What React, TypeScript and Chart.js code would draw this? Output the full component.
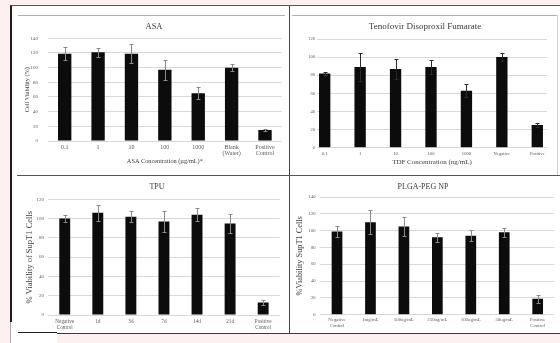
import React, { useEffect, useRef } from "react";
import { Chart, registerables } from "chart.js";

Chart.register(...registerables);

const SERIF = '"Liberation Serif", "Times New Roman", serif';

// ---- ASA ----
const asaCategories: (string | string[])[] = ["0.1", "1", "10", "100", "1000", ["Blank", "(Water)"], ["Positive", "Control"]];
const asaViability = [119, 121, 119, 97, 65, 100, 15];
const asaError = [9, 6, 13, 14, 8, 5, 1.5];
const asaTicks = [0, 20, 40, 60, 80, 100, 120, 140];

// ---- Tenofovir Disoproxil Fumarate ----
const tdfCategories: (string | string[])[] = ["0.1", "1", "10", "100", "1000", "Negative", "Positive"];
const tdfViability = [82, 89, 87, 89, 63, 100, 25];
const tdfError = [2, 15, 11, 8, 7, 4.5, 2.5];
const tdfTicks = [0, 20, 40, 60, 80, 100, 120];

// ---- TPU ----
const tpuCategories: (string | string[])[] = [["Negative", "Control"], "1d", "3d", "7d", "14d", "21d", ["Positive", "Control"]];
const tpuViability = [100, 106, 102, 97, 104, 95, 13];
const tpuError = [4, 8, 6, 11, 6.5, 10, 2.5];
const tpuTicks = [0, 20, 40, 60, 80, 100, 120];

// ---- PLGA-PEG NP ----
const plgaCategories: (string | string[])[] = [["Negative", "Control"], "1mg/mL", "500ug/mL", "250ug/mL", "100ug/mL", "50ug/mL", ["Positive", "Control"]];
const plgaViability = [99, 110, 105, 92, 94, 98, 19];
const plgaError = [6, 14, 11, 5, 6.5, 5, 4.5];
const plgaTicks = [0, 20, 40, 60, 80, 100, 120, 140];

// Draws +/- error whiskers on each bar using the value scale.
const errorBarsPlugin = {
  id: "errorBars",
  afterDatasetsDraw(chart: any, _args: any, opts: any) {
    const errs: number[] = opts.errors || [];
    const values: number[] = opts.values || [];
    const meta = chart.getDatasetMeta(0);
    const y = chart.scales.y;
    const ctx = chart.ctx;
    const cap = opts.cap ?? 2;
    ctx.save();
    ctx.strokeStyle = opts.color || "#888";
    ctx.lineWidth = 1;
    meta.data.forEach((bar: any, i: number) => {
      const v = values[i];
      const e = errs[i] ?? 0;
      const x = Math.round(bar.x) + 0.5;
      const top = Math.round(y.getPixelForValue(v + e)) + 0.5;
      const bot = Math.round(y.getPixelForValue(v - e)) + 0.5;
      ctx.beginPath();
      ctx.moveTo(x, top);
      ctx.lineTo(x, bot);
      ctx.moveTo(x - cap, top);
      ctx.lineTo(x + cap, top);
      ctx.moveTo(x - cap, bot);
      ctx.lineTo(x + cap, bot);
      ctx.stroke();
    });
    ctx.restore();
  },
};

// Panel heading drawn at a fixed spot above the plot.
const panelTitlePlugin = {
  id: "panelTitle",
  afterDraw(chart: any, _args: any, opts: any) {
    if (!opts.text) return;
    const ctx = chart.ctx;
    ctx.save();
    ctx.font = `${opts.size}px ${SERIF}`;
    ctx.fillStyle = opts.color || "#333";
    ctx.textAlign = "center";
    ctx.textBaseline = "middle";
    ctx.fillText(opts.text, opts.x, opts.y);
    ctx.restore();
  },
};

type PanelProps = {
  left: number;
  top: number;
  width: number;
  height: number;
  categories: (string | string[])[];
  values: number[];
  errors: number[];
  ticks: number[];
  title: string;
  titleX: number;
  titleSize: number;
  padTop: number;
  padRight: number;
  yAxisWidth: number;
  xAxisHeight: number;
  yTickPad: number;
  yTickSize: number;
  xTickPad: number;
  xTickSize: number;
  yTitle?: string;
  yTitleSize?: number;
  yTitlePad?: number;
  xTitle?: string;
  xTitleSize?: number;
  xTitlePad?: number;
  barPct: number;
  errColor: string;
  // numeric x range for panels whose bars do not sit on even category slots
  xRange?: [number, number];
};

function Panel(p: PanelProps) {
  const ref = useRef<HTMLCanvasElement | null>(null);

  useEffect(() => {
    if (!ref.current) return;
    const tickMin = p.ticks[0];
    const tickMax = p.ticks[p.ticks.length - 1];
    const linearX = !!p.xRange;

    const xTitle = p.xTitle
      ? {
          display: true,
          text: p.xTitle,
          font: { family: SERIF, size: p.xTitleSize },
          color: "#404040",
          padding: { top: 0, bottom: p.xTitlePad },
        }
      : { display: false };

    const xTickStyle = {
      font: { family: SERIF, size: p.xTickSize, lineHeight: 1.05 },
      color: "#595959",
      padding: p.xTickPad,
      maxRotation: 0,
      minRotation: 0,
      autoSkip: false,
    };

    const xScale: any = linearX
      ? {
          type: "linear",
          offset: false,
          min: p.xRange![0],
          max: p.xRange![1],
          grid: { display: false, drawTicks: false },
          border: { display: false },
          afterBuildTicks: (s: any) => {
            s.ticks = p.categories.map((_, i) => ({ value: i }));
          },
          ticks: {
            ...xTickStyle,
            includeBounds: false,
            callback: (v: number) => p.categories[Math.round(v)],
          },
          title: xTitle,
          afterFit: (s: any) => {
            s.height = p.xAxisHeight;
          },
        }
      : {
          type: "category",
          offset: true,
          grid: { display: false, drawTicks: false },
          border: { display: false },
          ticks: xTickStyle,
          title: xTitle,
          afterFit: (s: any) => {
            s.height = p.xAxisHeight;
          },
        };

    const chart = new Chart(ref.current, {
      type: "bar",
      data: {
        labels: linearX ? undefined : (p.categories as any),
        datasets: [
          {
            data: linearX ? p.values.map((v, i) => ({ x: i, y: v })) : p.values,
            backgroundColor: "#0c0c0c",
            borderWidth: 0,
            barPercentage: p.barPct,
            categoryPercentage: 1,
          } as any,
        ],
      },
      options: {
        animation: false,
        responsive: false,
        devicePixelRatio: 1,
        layout: { padding: { top: p.padTop, right: p.padRight, left: 0, bottom: 0 } },
        plugins: {
          legend: { display: false },
          tooltip: { enabled: false },
          title: { display: false },
          errorBars: { values: p.values, errors: p.errors, color: p.errColor, cap: 2 },
          panelTitle: { text: p.title, x: p.titleX, y: 11, size: p.titleSize, color: "#3a3a3a" },
        } as any,
        scales: {
          x: xScale,
          y: {
            min: tickMin,
            max: tickMax,
            afterBuildTicks: (s: any) => {
              s.ticks = p.ticks.map((v) => ({ value: v }));
            },
            ticks: {
              font: { family: SERIF, size: p.yTickSize },
              color: "#595959",
              padding: p.yTickPad,
            },
            grid: { color: "#d9d9d9", drawTicks: false, lineWidth: 1 },
            border: { display: false },
            title: p.yTitle
              ? {
                  display: true,
                  text: p.yTitle,
                  font: { family: SERIF, size: p.yTitleSize },
                  color: "#404040",
                  padding: { top: p.yTitlePad, bottom: 0 },
                }
              : { display: false },
            afterFit: (s: any) => {
              s.width = p.yAxisWidth;
            },
          },
        } as any,
      },
      plugins: [errorBarsPlugin, panelTitlePlugin],
    });
    return () => chart.destroy();
  }, []);

  return (
    <canvas
      ref={ref}
      width={p.width}
      height={p.height}
      style={{ position: "absolute", left: p.left, top: p.top, width: p.width, height: p.height }}
    />
  );
}

export default function App() {
  return (
    <div
      style={{
        position: "fixed",
        left: 0,
        top: 0,
        width: 560,
        height: 343,
        background: "#fcf0f0",
        overflow: "hidden",
      }}
    >
      {/* figure frame */}
      <div
        style={{
          position: "absolute",
          left: 10,
          top: 5,
          width: 552,
          height: 329,
          background: "#ffffff",
          borderLeft: "2px solid #1e1e1e",
          borderTop: "1px solid #555",
          borderBottom: "1px solid #3a3a3a",
          boxSizing: "border-box",
        }}
      />
      <div style={{ position: "absolute", left: 10, top: 322, width: 47, height: 21, background: "#fff", borderLeft: "1px solid #aaa", boxSizing: "border-box" }} />
      <div style={{ position: "absolute", left: 18, top: 332, width: 39, height: 1, background: "#222" }} />
      {/* panel dividers */}
      <div style={{ position: "absolute", left: 289, top: 5, width: 1, height: 329, background: "#444" }} />
      <div style={{ position: "absolute", left: 17, top: 175, width: 543, height: 1, background: "#555" }} />
      <div style={{ position: "absolute", left: 18, top: 15, width: 267, height: 1, background: "#b0b0b0" }} />
      <div style={{ position: "absolute", left: 292, top: 15, width: 265, height: 1, background: "#b0b0b0" }} />
      <div style={{ position: "absolute", left: 557, top: 15, width: 1, height: 160, background: "#cfcfcf" }} />

      <Panel
        left={12}
        top={16}
        width={276}
        height={158}
        categories={asaCategories}
        values={asaViability}
        errors={asaError}
        ticks={asaTicks}
        title="ASA"
        titleX={142}
        titleSize={8.5}
        padTop={22.3}
        padRight={6.3}
        yAxisWidth={36}
        xAxisHeight={33}
        yTickPad={10}
        yTickSize={5}
        xTickPad={3}
        xTickSize={6}
        yTitle="Cell Viability (%)"
        yTitleSize={6.3}
        yTitlePad={11.3}
        xTitle="ASA Concentration (µg/mL)*"
        xTitleSize={6.3}
        xTitlePad={8.8}
        barPct={0.4}
        errColor="#8a8a8a"
      />
      <Panel
        left={290}
        top={16}
        width={268}
        height={158}
        categories={tdfCategories}
        values={tdfViability}
        errors={tdfError}
        ticks={tdfTicks}
        title="Tenofovir Disoproxil Fumarate"
        titleX={135}
        titleSize={9}
        padTop={23}
        padRight={11}
        yAxisWidth={27}
        xAxisHeight={26.3}
        yTickPad={2}
        yTickSize={4.5}
        xTickPad={3.3}
        xTickSize={4.6}
        xTitle="TDF Concentration (ng/mL)"
        xTitleSize={7}
        xTitlePad={7.8}
        barPct={0.32}
        errColor="#2a2a2a"
        xRange={[-0.217, 6.274]}
      />
      <Panel
        left={12}
        top={176}
        width={276}
        height={156}
        categories={tpuCategories}
        values={tpuViability}
        errors={tpuError}
        ticks={tpuTicks}
        title="TPU"
        titleX={145}
        titleSize={8}
        padTop={23.3}
        padRight={8.3}
        yAxisWidth={36.2}
        xAxisHeight={17}
        yTickPad={4.2}
        yTickSize={5}
        xTickPad={4}
        xTickSize={5.2}
        yTitle="% Viability of SupT1 Cells"
        yTitleSize={8.5}
        yTitlePad={12.9}
        barPct={0.33}
        errColor="#8a8a8a"
      />
      <Panel
        left={290}
        top={176}
        width={268}
        height={156}
        categories={plgaCategories}
        values={plgaViability}
        errors={plgaError}
        ticks={plgaTicks}
        title="PLGA-PEG NP"
        titleX={133}
        titleSize={8}
        padTop={21}
        padRight={3.6}
        yAxisWidth={30.3}
        xAxisHeight={17.3}
        yTickPad={4.8}
        yTickSize={4.6}
        xTickPad={3}
        xTickSize={4.8}
        yTitle="%Viability SupT1 Cells"
        yTitleSize={8.3}
        yTitlePad={5}
        barPct={0.32}
        errColor="#8a8a8a"
      />
    </div>
  );
}
